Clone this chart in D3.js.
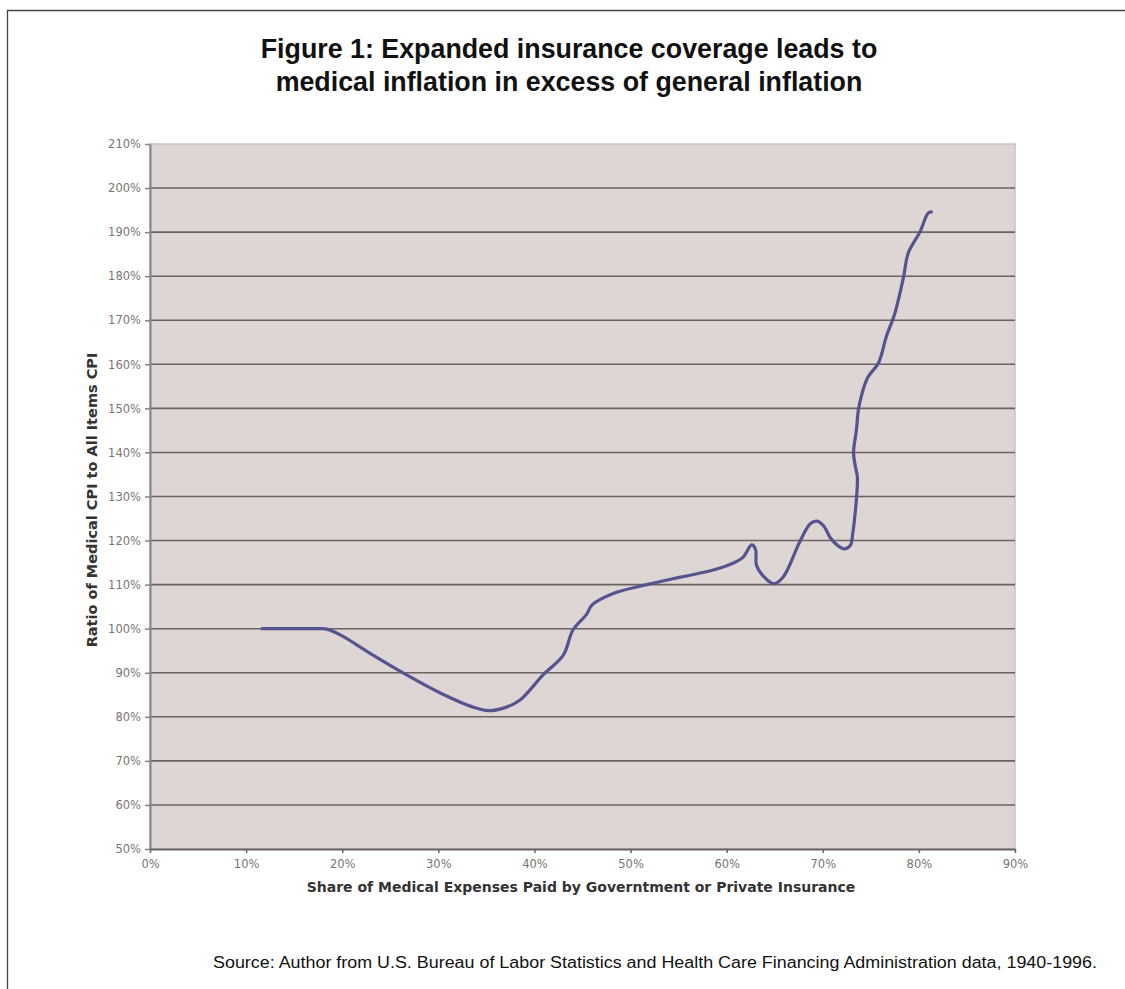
<!DOCTYPE html>
<html>
<head>
<meta charset="utf-8">
<script src="https://cdn.jsdelivr.net/npm/d3@7"></script>
<style>
  body { margin: 0; background: #fff; }
  svg { display: block; }
</style>
</head>
<body>
<svg id="chart" width="1125" height="989"></svg>
<script>
// share of medical expenses paid by insurance (%), in time order 1940-1996
var shareInsured = [11.65, 15.0, 17.6, 18.4, 19.8, 23.2, 26.7, 30.2, 33.6, 35.2, 37.1, 38.5, 40.9, 43.0, 44.0, 45.4, 46.0, 48.2, 51.7, 55.2, 58.6, 60.7, 61.7, 62.6, 63.0, 63.1, 63.7, 64.9, 65.9, 67.6, 68.7, 69.4, 70.1, 70.8, 71.6, 72.3, 72.9, 73.1, 73.4, 73.6, 73.4, 73.2, 73.5, 73.7, 74.1, 74.7, 75.8, 76.6, 77.5, 78.4, 78.9, 80.1, 80.96, 81.3]
// ratio of medical CPI to all items CPI (%)
var cpiRatio = [100, 100, 100, 99.9, 98.6, 94.0, 89.5, 85.4, 82.2, 81.4, 82.2, 83.8, 89.5, 94.0, 99.7, 103.2, 105.4, 108.0, 110.0, 111.7, 113.3, 114.9, 116.2, 119.0, 118.0, 114.4, 112.2, 110.2, 111.8, 119.7, 123.8, 124.4, 123.3, 120.6, 118.8, 118.1, 119.0, 121.3, 126.9, 134.4, 136.7, 139.9, 145.1, 149.6, 153.5, 157.1, 160.3, 166.2, 171.6, 179.8, 185.3, 190.0, 194.3, 194.6]
var xTicks = [0, 10, 20, 30, 40, 50, 60, 70, 80, 90]
var yTicks = [50, 60, 70, 80, 90, 100, 110, 120, 130, 140, 150, 160, 170, 180, 190, 200, 210]

var svg = d3.select("#chart")

// outer frame
svg.append("path")
  .attr("d", "M7.5,1000 L7.5,10.5 L1130,10.5")
  .attr("fill", "none").attr("stroke", "#444").attr("stroke-width", 1.3)

// title
var title = svg.append("text")
  .attr("text-anchor", "middle")
  .attr("font-family", "'Liberation Sans', Arial, sans-serif")
  .attr("font-weight", "bold").attr("font-size", 26.8).attr("fill", "#111")
title.append("tspan").attr("x", 569).attr("y", 58).text("Figure 1: Expanded insurance coverage leads to")
title.append("tspan").attr("x", 569).attr("y", 91).text("medical inflation in excess of general inflation")

var plotL = 150, plotR = 1015, plotT = 144, plotB = 849

var x = d3.scaleLinear().domain([0, 90]).range([plotL, plotR])
var y = d3.scaleLinear().domain([50, 210]).range([plotB, plotT])

// plot background
svg.append("rect")
  .attr("x", plotL).attr("y", plotT).attr("width", plotR - plotL).attr("height", plotB - plotT)
  .attr("fill", "#ded6d5").attr("stroke", "#c9c1c0").attr("stroke-width", 1.5)

// gridlines
svg.append("g").selectAll("line")
  .data(yTicks.filter(function(d) { return d > 50 && d < 210 }))
  .enter().append("line")
  .attr("x1", plotL).attr("x2", plotR)
  .attr("y1", function(d) { return y(d) }).attr("y2", function(d) { return y(d) })
  .attr("stroke", "#6b6262").attr("stroke-width", 1.6)

// y axis
var yAxis = svg.append("g")
  .attr("transform", "translate(" + plotL + ",0)")
  .call(d3.axisLeft(y).tickValues(yTicks).tickSize(5).tickSizeOuter(0).tickFormat(function(d) { return d + "%" }))
yAxis.select(".domain").attr("stroke", "#8a8282").attr("stroke-width", 2)
yAxis.selectAll(".tick line").attr("stroke", "#8a8282").attr("stroke-width", 1.5)
yAxis.selectAll(".tick text")
  .attr("font-family", "'DejaVu Sans', Verdana, sans-serif").attr("font-size", 11.5)
  .attr("fill", "#7a7474").attr("x", -9)

// x axis
var xAxis = svg.append("g")
  .attr("transform", "translate(0," + plotB + ")")
  .call(d3.axisBottom(x).tickValues(xTicks).tickSize(4).tickSizeOuter(0).tickFormat(function(d) { return d + "%" }))
xAxis.select(".domain").attr("stroke", "#6b6262").attr("stroke-width", 2)
xAxis.selectAll(".tick line").attr("stroke", "#6b6262").attr("stroke-width", 1.5)
xAxis.selectAll(".tick text")
  .attr("font-family", "'DejaVu Sans', Verdana, sans-serif").attr("font-size", 11.5)
  .attr("fill", "#7a7474").attr("y", 11)

// axis titles
svg.append("text")
  .attr("x", 581).attr("y", 892).attr("text-anchor", "middle")
  .attr("font-family", "'DejaVu Sans', Verdana, sans-serif").attr("font-weight", "bold")
  .attr("font-size", 14).attr("fill", "#333")
  .text("Share of Medical Expenses Paid by Governtment or Private Insurance")

svg.append("text")
  .attr("transform", "translate(97,500) rotate(-90)").attr("text-anchor", "middle")
  .attr("font-family", "'DejaVu Sans', Verdana, sans-serif").attr("font-weight", "bold")
  .attr("font-size", 14.5).attr("fill", "#333")
  .text("Ratio of Medical CPI to All Items CPI")

// the series
var pts = shareInsured.map(function(d, i) { return [d, cpiRatio[i]] })
var line = d3.line()
  .x(function(d) { return x(d[0]) })
  .y(function(d) { return y(d[1]) })
  .curve(d3.curveCatmullRom.alpha(0.5))

svg.append("path")
  .datum(pts)
  .attr("d", line)
  .attr("fill", "none").attr("stroke", "#56548f").attr("stroke-width", 3.2)
  .attr("stroke-linejoin", "round").attr("stroke-linecap", "round")

// source note
svg.append("text")
  .attr("x", 1097).attr("y", 968).attr("text-anchor", "end")
  .attr("font-family", "'Liberation Sans', Arial, sans-serif").attr("font-size", 16)
  .attr("fill", "#111")
  .attr("textLength", 884).attr("lengthAdjust", "spacingAndGlyphs")
  .text("Source: Author from U.S. Bureau of Labor Statistics and Health Care Financing Administration data, 1940-1996.")
</script>
</body>
</html>
